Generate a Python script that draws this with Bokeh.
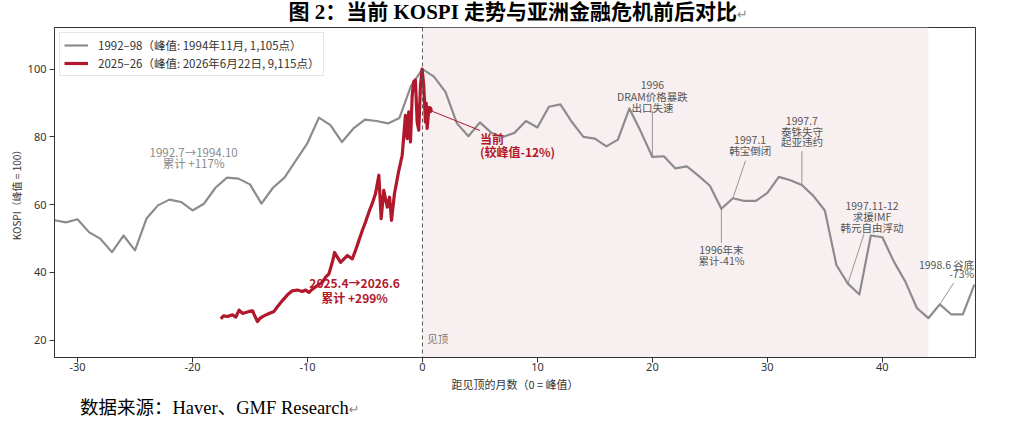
from bokeh.plotting import figure
from bokeh.layouts import column
from bokeh.models import Range1d, FixedTicker, Label, Span, BoxAnnotation, Legend, LegendItem, Div
from bokeh.embed import file_html
from bokeh.resources import INLINE

# ---------------- data ----------------
title_text = "图 2：当前 KOSPI 走势与亚洲金融危机前后对比"
footer_text = "数据来源：Haver、GMF Research"
x_label = "距见顶的月数（0 = 峰值）"
y_label = "KOSPI（峰值 = 100）"
legend_labels = ["1992–98（峰值: 1994年11月, 1,105点）",
                 "2025–26（峰值: 2026年6月22日, 9,115点）"]
x_ticks = [-30, -20, -10, 0, 10, 20, 30, 40]
y_ticks = [20, 40, 60, 80, 100]

# 1992-98 monthly, index = months from peak
gray_months = list(range(-32, 49))
gray_values = [55.4, 54.8, 55.7, 51.9, 49.9, 46.0, 50.9, 46.5, 55.9, 59.8,
               61.5, 60.8, 58.3, 60.3, 65.0, 68.0, 67.7, 66.0, 60.3, 65.0,
               68.0, 73.1, 78.2, 85.7, 83.5, 78.5, 82.5, 85.1, 84.7, 84.0,
               85.6, 95.0, 100.0, 97.8, 93.3, 84.0, 80.2, 84.3, 81.2, 80.0,
               81.2, 84.7, 82.8, 88.9, 89.6, 84.4, 80.0, 79.5, 77.2, 79.2,
               88.4, 81.5, 74.1, 74.3, 70.7, 71.3, 68.6, 65.6, 58.8, 61.9,
               61.1, 61.1, 63.5, 68.2, 67.2, 65.8, 62.6, 58.3, 42.2, 36.7,
               33.5, 50.9, 50.4, 43.2, 37.3, 29.5, 26.5, 30.6, 27.6, 27.6,
               36.4]

# 2025-26 daily, placed in months from peak
red_months = [-17.53, -17.30, -16.95, -16.52, -16.23, -15.95, -15.65, -15.36, -15.08, -14.78,
              -14.58, -14.35, -14.12, -13.78, -13.34, -12.91, -12.61, -12.18, -11.74, -11.31,
              -10.88, -10.44, -10.16, -9.87, -9.57, -9.14, -8.71, -8.42, -8.13, -7.84,
              -7.64, -7.40, -7.12, -6.54, -6.10, -5.82, -5.53, -5.23, -4.95, -4.66,
              -4.37, -4.08, -3.79, -3.59, -3.36, -3.06, -2.86, -2.69, -2.43, -2.06,
              -1.76, -1.48, -1.33, -1.19, -1.04, -0.89, -0.76, -0.61, -0.46, -0.32,
              -0.17, -0.03, 0.11, 0.26, 0.33, 0.41, 0.55]
red_values = [26.3, 27.2, 27.0, 27.5, 26.8, 28.9, 27.9, 28.2, 28.5, 28.7,
              27.2, 25.5, 26.5, 27.2, 27.9, 28.5, 29.9, 31.7, 33.4, 34.6,
              34.8, 34.4, 34.8, 34.1, 35.1, 36.1, 37.1, 38.6, 39.6, 43.0,
              45.9, 44.5, 43.0, 45.0, 44.0, 46.5, 49.4, 52.4, 54.9, 57.8,
              60.3, 63.3, 68.7, 55.9, 64.2, 59.3, 62.2, 55.4, 63.3, 70.0,
              74.6, 86.4, 79.5, 87.4, 78.5, 92.3, 96.3, 96.8, 84.4, 82.0,
              95.3, 100.0, 95.3, 84.4, 90.0, 82.5, 88.0]
current_month = 0.55
current_value = 88.0

shade_start, shade_end = 0, 44

# annotation texts (text, x, y) in data units
gray_notes = [("1992.7→1994.10", -19.9, 75.6), ("累计 +117%", -19.9, 72.2)]
red_notes = [("2025.4→2026.6", -5.9, 36.9), ("累计 +299%", -5.9, 32.7)]
current_notes = [("当前", 5.0, 79.6), ("(较峰值-12%)", 5.0, 75.6)]
current_leader = (5.0, 81.9)
event_notes = [("1996", 20.0, 95.3), ("DRAM价格暴跌", 20.0, 92.0), ("出口失速", 20.0, 88.8),
               ("1997.1", 28.5, 79.0), ("韩宝倒闭", 28.5, 76.0),
               ("1997.7", 33.0, 84.7), ("泰铢失守", 33.0, 81.7), ("起亚违约", 33.0, 78.6),
               ("1996年末", 26.0, 46.8), ("累计-41%", 26.0, 43.5),
               ("1997.11-12", 39.1, 59.7), ("求援IMF", 39.1, 56.6), ("韩元自由浮动", 39.1, 53.4),
               ("-73%", 46.9, 39.6)]
edge_note = ("1998.6 谷底", 48.0, 42.4)   # right-aligned at the frame edge
leader_x0 = [20, 27, 33, 26, 37, 45]
leader_y0 = [74.1, 61.9, 65.8, 58.8, 36.7, 30.6]
leader_x1 = [20, 28.1, 33, 26, 38.4, 46.2]
leader_y1 = [87.6, 73.0, 75.8, 48.7, 51.3, 36.9]
peak_note = ("见顶", 0.42, 20.6)

# ---------------- styling ----------------
GRAY = "#8c8c8c"
RED = "#b2182b"
CJK = "Noto Sans CJK SC"
SERIF_CSS = "'Liberation Serif', 'Noto Sans CJK SC', serif"

p = figure(width=1016, height=376, output_backend="svg", toolbar_location=None,
           x_range=Range1d(-32.0, 48.1), y_range=Range1d(14.9, 112.3),
           min_border_left=54, min_border_right=41, min_border_top=2, min_border_bottom=44,
           title_location=None, background_fill_color="white", border_fill_color="white",
           margin=0)
p.outline_line_color = "#333333"
p.outline_line_width = 1
p.grid.visible = False

for ax in (p.xaxis[0], p.yaxis[0]):
    ax.axis_line_color = "#333333"
    ax.major_tick_line_color = "#333333"
    ax.major_tick_out = 5
    ax.major_tick_in = 0
    ax.minor_tick_line_color = None
    ax.major_label_text_font = "Noto Sans"
    ax.major_label_text_font_size = "11px"
    ax.major_label_text_color = "#333333"
    ax.axis_label_text_font = CJK
    ax.axis_label_text_font_style = "normal"
    ax.axis_label_text_color = "#333333"
p.xaxis.ticker = FixedTicker(ticks=x_ticks)
p.yaxis.ticker = FixedTicker(ticks=y_ticks)
p.xaxis.major_label_overrides = {t: str(t) for t in x_ticks}
p.yaxis.major_label_overrides = {t: str(t) for t in y_ticks}
p.xaxis.major_label_standoff = 0
p.yaxis.major_label_standoff = 3
p.xaxis.axis_label = x_label
p.yaxis.axis_label = y_label
p.xaxis.axis_label_text_font_size = "11px"
p.yaxis.axis_label_text_font_size = "10px"
p.xaxis.axis_label_standoff = 2
p.yaxis.axis_label_standoff = 1

p.add_layout(BoxAnnotation(left=shade_start, right=shade_end, fill_color="#f8f0f0",
                           fill_alpha=1.0, line_color=None, level="underlay"))

g = p.line(gray_months, gray_values, line_color=GRAY, line_width=2.2, line_join="round")
r = p.line(red_months, red_values, line_color=RED, line_width=3.2, line_join="round")
p.add_layout(Span(location=0, dimension="height", line_color="#555555",
                  line_dash="4 3", line_width=1))

p.segment(x0=leader_x0, y0=leader_y0, x1=leader_x1, y1=leader_y1,
          line_color="#8a8a8a", line_width=0.9)
p.segment(x0=[current_month], y0=[current_value], x1=[current_leader[0]], y1=[current_leader[1]],
          line_color=RED, line_width=1)
p.scatter([current_month], [current_value], size=7, color=RED)


def note(text, x, y, color, size, bold=False, align="center"):
    p.add_layout(Label(x=x, y=y, text=text, text_color=color, text_font=CJK,
                       text_font_size=size, text_font_style="bold" if bold else "normal",
                       text_align=align, text_baseline="middle"))


for t, x, y in gray_notes:
    note(t, x, y, "#8a8a8a", "11.5px")
for t, x, y in red_notes:
    note(t, x, y, RED, "12px", bold=True)
for t, x, y in current_notes:
    note(t, x, y, RED, "12px", bold=True, align="left")
for t, x, y in event_notes:
    note(t, x, y, "#555555", "10.5px")
note(edge_note[0], edge_note[1], edge_note[2], "#555555", "10.5px", align="right")
note(peak_note[0], peak_note[1], peak_note[2], "#777777", "10.5px", align="left")

legend = Legend(items=[LegendItem(label=legend_labels[0], renderers=[g]),
                       LegendItem(label=legend_labels[1], renderers=[r])],
                location="top_left", margin=5, padding=4, spacing=2,
                label_height=12, glyph_height=12, glyph_width=24, label_standoff=10,
                label_text_font=CJK, label_text_font_size="11.5px", label_text_color="#333333",
                border_line_color="#cccccc", border_line_width=1,
                background_fill_color="white", background_fill_alpha=0.9)
p.add_layout(legend)

ret = "<span style='color:#888888;font-weight:normal;font-size:13px;font-family:DejaVu Sans'>↵</span>"
title_div = Div(text=title_text + ret, width=748, height=25, margin=0,
                styles={"font-family": SERIF_CSS, "font-size": "21px", "font-weight": "bold",
                        "line-height": "25px", "text-align": "right", "color": "black",
                        "white-space": "nowrap"})
footer_div = Div(text=footer_text + ret, width=600, height=14, margin=0,
                 styles={"font-family": SERIF_CSS, "font-size": "18.5px", "font-weight": "normal",
                         "line-height": "14px", "text-align": "left", "color": "black",
                         "padding-left": "80px", "white-space": "nowrap"})

page = column(title_div, p, footer_div, spacing=0)

open("out.html", "w").write(file_html(page, INLINE))
